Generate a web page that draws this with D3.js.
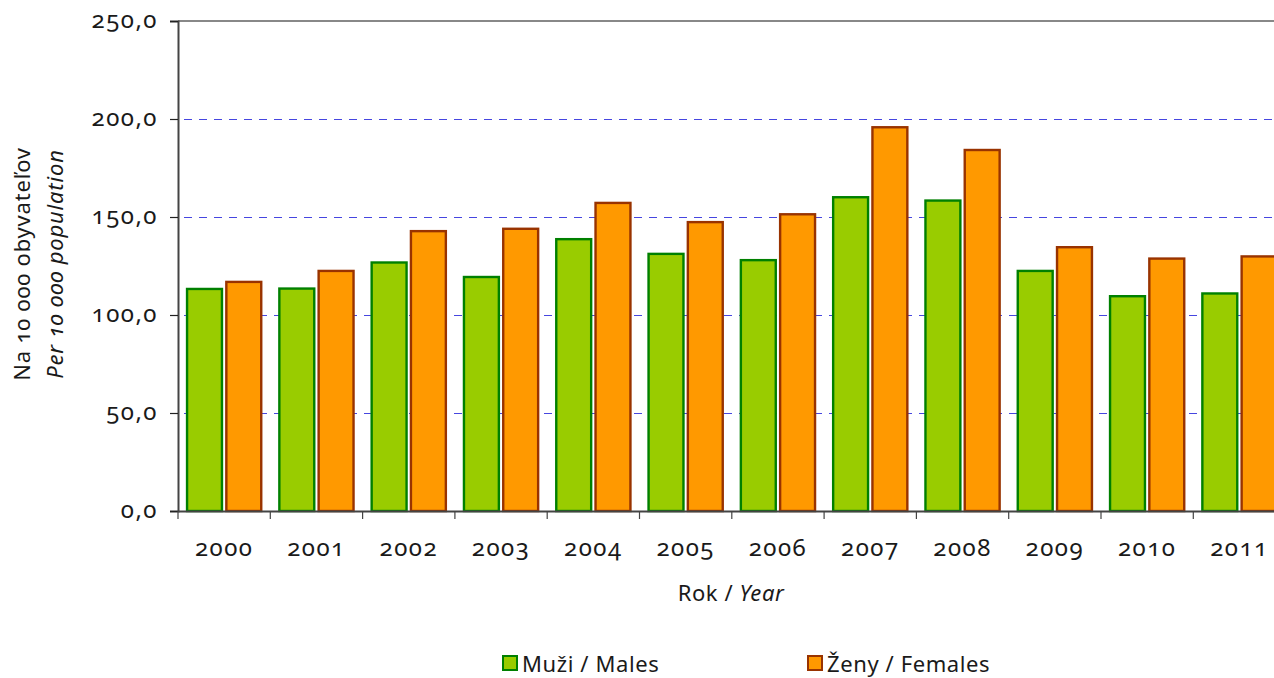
<!DOCTYPE html>
<html>
<head>
<meta charset="utf-8">
<script src="https://cdn.jsdelivr.net/npm/d3@7"></script>
<style>
  body { margin: 0; background: #fff; }
  svg text { font-family: "Noto Sans", "DejaVu Sans", sans-serif; fill: #1a1a1a;
             font-variant-numeric: oldstyle-nums; font-feature-settings: "onum" 1; }
</style>
</head>
<body>
<div id="vizContainer"></div>
<script>
const years = ["2000", "2001", "2002", "2003", "2004", "2005", "2006", "2007", "2008", "2009", "2010", "2011"];
const males = [113.9, 114.1, 127.4, 120.0, 139.3, 131.8, 128.6, 160.7, 159.0, 123.1, 110.2, 111.6];
const females = [117.5, 123.1, 143.4, 144.6, 157.8, 148.0, 152.0, 196.4, 184.8, 135.2, 129.4, 130.5];
const yTicks = [0, 50, 100, 150, 200, 250];
const seriesNames = ["Muži / Males", "Ženy / Females"];

const width = 1274, height = 678;
const plotLeft = 178, plotRight = 1285.6, plotTop = 21, plotBottom = 511;

const container = document.getElementById("vizContainer");
container.innerHTML = "";

const svg = d3.select(container).append("svg")
  .attr("width", width)
  .attr("height", height);

const x = d3.scaleBand().domain(years).range([plotLeft, plotRight]).padding(0);
const xInner = d3.scaleBand().domain([0, 1]).range([0, x.bandwidth()])
  .paddingInner(0.05).paddingOuter(0.2);
const y = d3.scaleLinear().domain([0, 250]).range([plotBottom, plotTop]);

const fmt = v => d3.format(".1f")(v).replace(".", ",");

// gridlines
svg.append("g")
  .selectAll("line")
  .data(yTicks.filter(t => t > 0 && t < 250))
  .join("line")
  .attr("x1", plotLeft).attr("x2", width)
  .attr("y1", d => Math.round(y(d)) + 0.5).attr("y2", d => Math.round(y(d)) + 0.5)
  .attr("stroke", "#4646e0")
  .attr("stroke-width", 1)
  .attr("stroke-dasharray", "8,7")
  .attr("stroke-dashoffset", -6);

// top border line
svg.append("line")
  .attr("x1", plotLeft).attr("x2", width)
  .attr("y1", y(250)).attr("y2", y(250))
  .attr("stroke", "#888").attr("stroke-width", 2);

// bars
const colors = [
  { fill: "#99cc00", stroke: "#008000" },
  { fill: "#ff9900", stroke: "#993300" }
];
const rows = years.map((yr, i) => ({ year: yr, vals: [males[i], females[i]] }));

const groups = svg.append("g")
  .selectAll("g")
  .data(rows)
  .join("g")
  .attr("transform", d => `translate(${x(d.year)},0)`);

groups.selectAll("rect")
  .data(d => d.vals.map((v, k) => ({ v, k })))
  .join("rect")
  .attr("x", d => xInner(d.k) + 1.2)
  .attr("y", d => y(d.v) + 1.2)
  .attr("width", xInner.bandwidth() - 2.4)
  .attr("height", d => plotBottom - y(d.v) - 1.2)
  .attr("fill", d => colors[d.k].fill)
  .attr("stroke", d => colors[d.k].stroke)
  .attr("stroke-width", 2.4);

// y axis
const yAxis = svg.append("g")
  .attr("transform", `translate(${plotLeft},0)`)
  .call(d3.axisLeft(y).tickValues(yTicks).tickFormat(fmt).tickSize(8).tickPadding(12));
yAxis.select(".domain").attr("stroke", "#444").attr("stroke-width", 2);
yAxis.selectAll(".tick line").attr("stroke", "#222").attr("stroke-width", 1.2);
yAxis.selectAll("text")
  .style("font-size", "24px")
  .style("letter-spacing", "1.5px")
  .attr("dy", "0.25em")
  .attr("fill", "#1a1a1a");

// x axis
const xAxis = svg.append("g")
  .attr("transform", `translate(0,${plotBottom})`)
  .call(d3.axisBottom(x).tickSize(0).tickPadding(28));
xAxis.select(".domain").attr("stroke", "#444").attr("stroke-width", 2);
xAxis.selectAll("text")
  .style("font-size", "24px")
  .style("letter-spacing", "1.5px")
  .attr("fill", "#1a1a1a");

// category separator ticks
svg.append("g")
  .selectAll("line")
  .data(years)
  .join("line")
  .attr("x1", d => x(d)).attr("x2", d => x(d))
  .attr("y1", plotBottom).attr("y2", plotBottom + 8)
  .attr("stroke", "#444").attr("stroke-width", 1.2);

// axis titles
svg.append("text")
  .attr("x", 731).attr("y", 601)
  .attr("text-anchor", "middle")
  .style("font-size", "22px")
  .style("letter-spacing", "0.6px")
  .call(t => {
    t.append("tspan").text("Rok / ");
    t.append("tspan").attr("font-style", "italic").text("Year");
  });

const yTitle = svg.append("text")
  .attr("transform", "translate(30,264) rotate(-90)")
  .attr("text-anchor", "middle")
  .style("font-size", "22px")
  .style("letter-spacing", "0.8px");
yTitle.append("tspan").attr("x", 0).attr("dy", 0).text("Na 10 000 obyvateľov");
yTitle.append("tspan").attr("x", 0).attr("dy", 33).attr("font-style", "italic").text("Per 10 000 population");

// legend
const legendX = [502, 807];
const legend = svg.append("g")
  .selectAll("g")
  .data(seriesNames)
  .join("g")
  .attr("transform", (d, i) => `translate(${legendX[i]},655)`);
legend.append("rect")
  .attr("x", 1).attr("y", 1)
  .attr("width", 14).attr("height", 14)
  .attr("fill", (d, i) => colors[i].fill)
  .attr("stroke", (d, i) => colors[i].stroke)
  .attr("stroke-width", 2);
legend.append("text")
  .attr("x", 20).attr("y", 17)
  .style("font-size", "22px")
  .style("letter-spacing", "0.6px")
  .text(d => d);
</script>
</body>
</html>
